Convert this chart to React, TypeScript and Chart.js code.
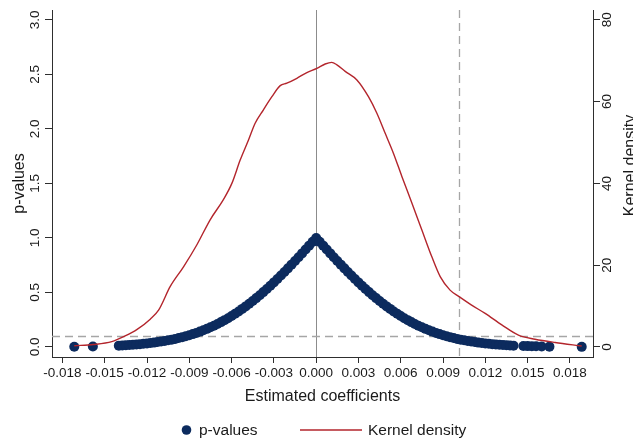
import React, { useEffect, useRef } from "react";
import { Chart, registerables } from "chart.js";

Chart.register(...registerables);

// Estimated coefficients and their p-values
const coefficients = [
  -0.01716, -0.01584,
  -0.014, -0.01375, -0.0135, -0.01325, -0.013, -0.01275, -0.0125, -0.01225,
  -0.012, -0.01175, -0.0115, -0.01125, -0.011, -0.01075, -0.0105, -0.01025,
  -0.01, -0.00975, -0.0095, -0.00925, -0.009, -0.00875, -0.0085, -0.00825,
  -0.008, -0.00775, -0.0075, -0.00725, -0.007, -0.00675, -0.0065, -0.00625,
  -0.006, -0.00575, -0.0055, -0.00525, -0.005, -0.00475, -0.0045, -0.00425,
  -0.004, -0.00375, -0.0035, -0.00325, -0.003, -0.00275, -0.0025, -0.00225,
  -0.002, -0.00175, -0.0015, -0.00125, -0.001, -0.00075, -0.0005, -0.00025,
  0,
  0.00025, 0.0005, 0.00075, 0.001, 0.00125, 0.0015, 0.00175, 0.002,
  0.00225, 0.0025, 0.00275, 0.003, 0.00325, 0.0035, 0.00375, 0.004,
  0.00425, 0.0045, 0.00475, 0.005, 0.00525, 0.0055, 0.00575, 0.006,
  0.00625, 0.0065, 0.00675, 0.007, 0.00725, 0.0075, 0.00775, 0.008,
  0.00825, 0.0085, 0.00875, 0.009, 0.00925, 0.0095, 0.00975, 0.01,
  0.01025, 0.0105, 0.01075, 0.011, 0.01125, 0.0115, 0.01175, 0.012,
  0.01225, 0.0125, 0.01275, 0.013, 0.01325, 0.0135, 0.01375, 0.014,
  0.0147, 0.015, 0.0153, 0.0156, 0.016, 0.01655, 0.01884,
];
const pValues = [
  0.002, 0.005,
  0.012, 0.014, 0.016, 0.018, 0.020, 0.023, 0.026, 0.029,
  0.032, 0.036, 0.040, 0.045, 0.050, 0.055, 0.061, 0.067,
  0.074, 0.082, 0.090, 0.099, 0.108, 0.118, 0.129, 0.141,
  0.153, 0.166, 0.181, 0.195, 0.211, 0.228, 0.246, 0.264,
  0.284, 0.305, 0.326, 0.349, 0.372, 0.396, 0.422, 0.448,
  0.475, 0.503, 0.532, 0.562, 0.592, 0.623, 0.655, 0.688,
  0.721, 0.755, 0.789, 0.823, 0.858, 0.894, 0.929, 0.964,
  1.0,
  0.964, 0.929, 0.894, 0.858, 0.823, 0.789, 0.755, 0.721,
  0.688, 0.655, 0.623, 0.592, 0.562, 0.532, 0.503, 0.475,
  0.448, 0.422, 0.396, 0.372, 0.349, 0.326, 0.305, 0.284,
  0.264, 0.246, 0.228, 0.211, 0.195, 0.181, 0.166, 0.153,
  0.141, 0.129, 0.118, 0.108, 0.099, 0.090, 0.082, 0.074,
  0.067, 0.061, 0.055, 0.050, 0.045, 0.040, 0.036, 0.032,
  0.029, 0.026, 0.023, 0.020, 0.018, 0.016, 0.014, 0.012,
  0.009, 0.008, 0.007, 0.006, 0.005, 0.003, 0.001,
];

// Kernel density of the estimates (right axis)
const densityX = [
  -0.01716, -0.0158, -0.0145, -0.01355, -0.0127, -0.01177, -0.01118, -0.01035,
  -0.00941, -0.00846, -0.00752, -0.00657, -0.00598, -0.00539, -0.0048, -0.00433,
  -0.00374, -0.00314, -0.00255, -0.00208, -0.00137, -0.00066, 0.00005, 0.00064,
  0.0011, 0.00147, 0.00206, 0.00289, 0.00371, 0.0043, 0.00489, 0.00548,
  0.00608, 0.00679, 0.0075, 0.0082, 0.0088, 0.0095, 0.01014, 0.011,
  0.01199, 0.01317, 0.01435, 0.01553, 0.01695, 0.01884,
];
const densityY = [
  0.3, 0.6, 1.3, 2.7, 4.3, 6.8, 9.0, 14.8,
  19.6, 25.0, 31.1, 36.1, 40.0, 45.7, 50.6, 54.7,
  58.0, 61.2, 63.9, 64.5, 65.7, 67.1, 68.1, 69.2,
  69.6, 69.0, 67.4, 65.3, 61.2, 57.2, 52.3, 47.4,
  41.7, 35.2, 28.6, 22.1, 17.2, 13.9, 12.3, 10.3,
  8.2, 5.4, 2.9, 1.9, 1.1, 0.25,
];

const xTicks = [-0.018, -0.015, -0.012, -0.009, -0.006, -0.003, 0, 0.003, 0.006, 0.009, 0.012, 0.015, 0.018];
const pTicks = [0, 0.5, 1, 1.5, 2, 2.5, 3];
const densityTicks = [0, 20, 40, 60, 80];

const xMin = -0.01874;
const xMax = 0.01964;
const pMin = -0.092;
const pMax = 3.09;
const densityMin = -2.453;
const densityMax = 82.4;

const zeroLine = 0;
const estimateLine = 0.0101;
const pThreshold = 0.1;

const NAVY = "#0c2b5e";
const RED = "#b3252c";
const AXIS = "#2e2e2e";
const TEXT = "#1a1a1a";
const FONT = "'Liberation Sans', Arial, Helvetica, sans-serif";

const refLinesPlugin = {
  id: "refLines",
  beforeDatasetsDraw(chart: any) {
    const { ctx, chartArea, scales } = chart;
    ctx.save();
    ctx.beginPath();
    ctx.rect(chartArea.left, chartArea.top, chartArea.right - chartArea.left, chartArea.bottom - chartArea.top);
    ctx.clip();
    ctx.lineWidth = 1;
    // solid zero line
    const x0 = Math.round(scales.x.getPixelForValue(zeroLine)) + 0.5;
    ctx.strokeStyle = "#8c8c8c";
    ctx.beginPath();
    ctx.moveTo(x0, chartArea.top);
    ctx.lineTo(x0, chartArea.bottom);
    ctx.stroke();
    // dashed lines
    ctx.setLineDash([8, 5]);
    ctx.strokeStyle = "#a6a6a6";
    ctx.lineWidth = 1.3;
    const x1 = Math.round(scales.x.getPixelForValue(estimateLine)) + 0.5;
    ctx.beginPath();
    ctx.moveTo(x1, chartArea.top);
    ctx.lineTo(x1, chartArea.bottom);
    ctx.stroke();
    const y1 = Math.round(scales.y.getPixelForValue(pThreshold)) + 0.5;
    ctx.beginPath();
    ctx.moveTo(chartArea.left, y1);
    ctx.lineTo(chartArea.right, y1);
    ctx.stroke();
    ctx.restore();
  },
};

const legendPlugin = {
  id: "customLegend",
  afterDraw(chart: any) {
    const { ctx, scales } = chart;
    ctx.save();
    // right axis title, reading upward
    const ya = scales.y2;
    ctx.translate(631, (ya.top + ya.bottom) / 2 - 18);
    ctx.rotate(-Math.PI / 2);
    ctx.fillStyle = TEXT;
    ctx.font = `16px ${FONT}`;
    ctx.textAlign = "center";
    ctx.textBaseline = "middle";
    ctx.fillText("Kernel density", 0, 0);
    ctx.restore();

    ctx.save();
    const ly = 430;
    ctx.fillStyle = NAVY;
    ctx.beginPath();
    ctx.arc(186.5, ly, 4.8, 0, Math.PI * 2);
    ctx.fill();
    ctx.fillStyle = TEXT;
    ctx.font = `15.5px ${FONT}`;
    ctx.textAlign = "left";
    ctx.textBaseline = "alphabetic";
    ctx.fillText("p-values", 199, ly + 4.5);
    ctx.strokeStyle = RED;
    ctx.lineWidth = 1.6;
    ctx.beginPath();
    ctx.moveTo(300, ly);
    ctx.lineTo(362, ly);
    ctx.stroke();
    ctx.fillText("Kernel density", 368, ly + 4.5);
    ctx.restore();
  },
};

export default function App() {
  const canvasRef = useRef<HTMLCanvasElement | null>(null);

  useEffect(() => {
    const canvas = canvasRef.current;
    if (!canvas) return;
    const tickFont = { family: FONT, size: 13.5 };
    const titleFont = { family: FONT, size: 16 };
    const chart = new Chart(canvas, {
      type: "scatter",
      data: {
        datasets: [
          {
            label: "Kernel density",
            data: densityX.map((x, i) => ({ x, y: densityY[i] })),
            yAxisID: "y2",
            showLine: true,
            borderColor: RED,
            borderWidth: 1.4,
            pointRadius: 0,
            cubicInterpolationMode: "monotone",
            fill: false,
          } as any,
          {
            label: "p-values",
            data: coefficients.map((x, i) => ({ x, y: pValues[i] })),
            yAxisID: "y",
            backgroundColor: NAVY,
            borderColor: NAVY,
            borderWidth: 0,
            pointRadius: 5,
          },
        ],
      },
      options: {
        animation: false,
        responsive: true,
        maintainAspectRatio: false,
        layout: { padding: { top: 10, bottom: 30, left: 0, right: 0 } },
        plugins: { legend: { display: false }, tooltip: { enabled: false } },
        scales: {
          x: {
            type: "linear",
            position: "bottom",
            min: xMin,
            max: xMax,
            afterBuildTicks: (s: any) => {
              s.ticks = xTicks.map((v) => ({ value: v }));
            },
            afterFit: (s: any) => {
              s.height = 54;
            },
            ticks: {
              callback: (v: any) => Number(v).toFixed(3),
              font: tickFont,
              color: TEXT,
              padding: 2,
              maxRotation: 0,
              minRotation: 0,
              autoSkip: false,
            },
            grid: { drawOnChartArea: false, drawTicks: true, tickLength: 6, color: AXIS },
            border: { display: true, color: AXIS, width: 1 },
            title: {
              display: true,
              text: "Estimated coefficients",
              font: titleFont,
              color: TEXT,
              padding: { top: 0, bottom: 5 },
            },
          },
          y: {
            type: "linear",
            position: "left",
            min: pMin,
            max: pMax,
            afterBuildTicks: (s: any) => {
              s.ticks = pTicks.map((v) => ({ value: v }));
            },
            afterFit: (s: any) => {
              s.width = 52;
            },
            ticks: {
              callback: (v: any) => Number(v).toFixed(1),
              font: tickFont,
              color: TEXT,
              padding: 0,
              minRotation: 90,
              maxRotation: 90,
              crossAlign: "center",
              autoSkip: false,
            },
            grid: { drawOnChartArea: false, drawTicks: true, tickLength: 7, color: AXIS },
            border: { display: true, color: AXIS, width: 1 },
            title: {
              display: true,
              text: "p-values",
              font: titleFont,
              color: TEXT,
              padding: { top: 10, bottom: 0 },
            },
          },
          y2: {
            type: "linear",
            position: "right",
            min: densityMin,
            max: densityMax,
            afterBuildTicks: (s: any) => {
              s.ticks = densityTicks.map((v) => ({ value: v }));
            },
            afterFit: (s: any) => {
              s.width = 40;
            },
            ticks: {
              callback: (v: any) => String(v),
              font: tickFont,
              color: TEXT,
              padding: 0,
              minRotation: 90,
              maxRotation: 90,
              crossAlign: "center",
              autoSkip: false,
            },
            grid: { drawOnChartArea: false, drawTicks: true, tickLength: 7, color: AXIS },
            border: { display: true, color: AXIS, width: 1 },
          },
        },
      } as any,
      plugins: [refLinesPlugin, legendPlugin],
    });
    return () => chart.destroy();
  }, []);

  return (
    <div style={{ position: "fixed", left: 0, top: 0, width: 633, height: 441, background: "#fff" }}>
      <canvas ref={canvasRef} />
    </div>
  );
}
